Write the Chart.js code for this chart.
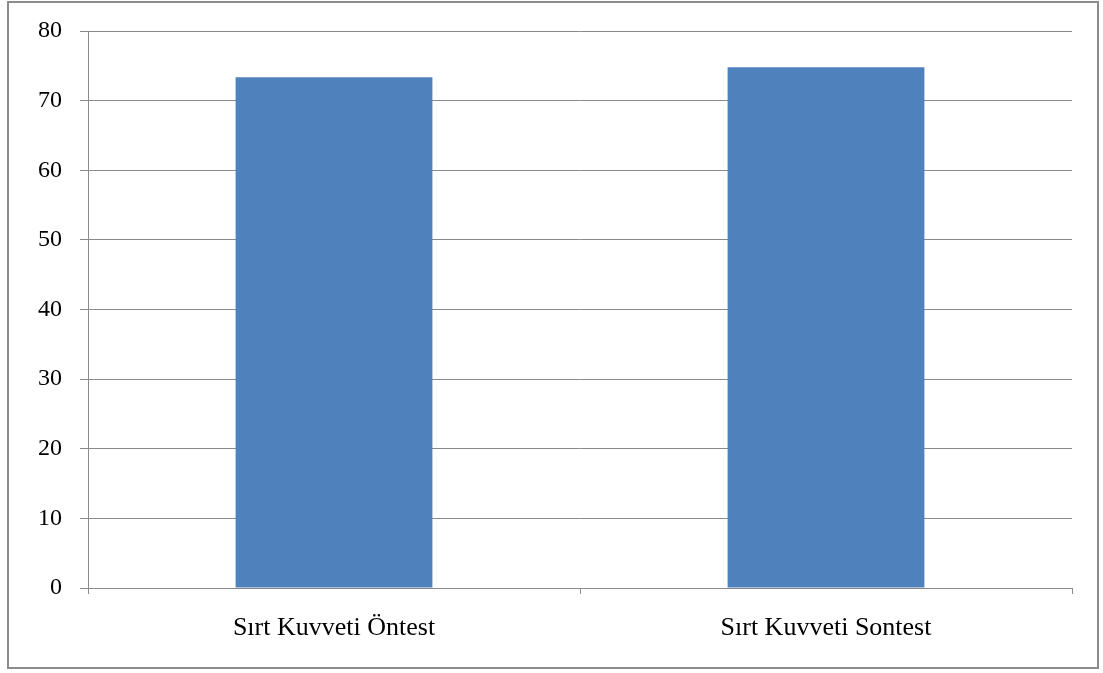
<!DOCTYPE html>
<html>
<head>
<meta charset="utf-8">
<script src="https://cdn.jsdelivr.net/npm/chart.js@4"></script>
<style>
  body { margin: 0; background: #fff; }
  #frame {
    position: absolute; left: 7px; top: 1px; width: 1092px; height: 668px;
    border: 2px solid #8c8c8c; box-sizing: border-box;
  }
  #wrap { position: absolute; left: 0; top: 0; width: 1103px; height: 673px; }
</style>
</head>
<body>
<div id="frame"></div>
<div id="wrap"><canvas id="chart"></canvas></div>
<script>
// values
const categories = ['Sırt Kuvveti Öntest', 'Sırt Kuvveti Sontest'];
const values = [73.35, 74.8];
const yMin = 0;
const yMax = 80;
const yStep = 10;

const gridColor = '#8a8a8a';

const ctx = document.getElementById('chart').getContext('2d');
new Chart(ctx, {
  type: 'bar',
  data: {
    labels: categories,
    datasets: [{
      data: values,
      backgroundColor: '#4f81bd',
      borderWidth: 0,
      categoryPercentage: 1.0,
      barPercentage: 0.4
    }]
  },
  options: {
    responsive: true,
    maintainAspectRatio: false,
    animation: false,
    layout: {
      padding: { top: 31, right: 31, bottom: 0, left: 0 }
    },
    plugins: {
      legend: { display: false },
      tooltip: { enabled: false }
    },
    scales: {
      x: {
        offset: true,
        grid: {
          offset: true,
          drawOnChartArea: false,
          drawTicks: true,
          tickLength: 6,
          color: gridColor
        },
        border: { color: gridColor, width: 1 },
        ticks: {
          color: '#000',
          padding: 19,
          maxRotation: 0,
          font: { family: '"Liberation Serif", "Times New Roman", serif', size: 26 }
        },
        afterFit: function(scale) { scale.height = 85; }
      },
      y: {
        min: yMin,
        max: yMax,
        ticks: {
          stepSize: yStep,
          color: '#000',
          padding: 18,
          font: { family: '"Liberation Serif", "Times New Roman", serif', size: 24 }
        },
        grid: {
          color: gridColor,
          lineWidth: 1,
          tickLength: 8
        },
        border: { color: gridColor, width: 1 },
        afterFit: function(scale) {
          scale.width = 88;
          scale.paddingTop = 0;
          scale.paddingBottom = 0;
        }
      }
    }
  }
});
</script>
</body>
</html>
